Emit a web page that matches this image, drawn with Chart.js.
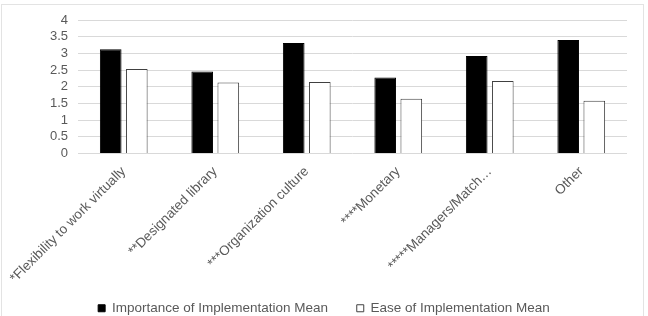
<!DOCTYPE html>
<html>
<head>
<meta charset="utf-8">
<script src="https://cdn.jsdelivr.net/npm/chart.js@4/dist/chart.umd.min.js"></script>
<style>
  html, body { margin: 0; padding: 0; background: #fff; overflow: hidden; }
  #wrap { position: relative; width: 648px; height: 316px; }
  #frame {
    position: absolute; left: 1px; top: 4px; width: 641px; height: 312px;
    border: 1px solid #e3e3e3; border-bottom: none; pointer-events: none;
  }
</style>
</head>
<body>
<div id="wrap"><canvas id="chart"></canvas><div id="frame"></div></div>
<script>
const categories = [
  '*Flexibility to work virtually',
  '**Designated library',
  '***Organization culture',
  '****Monetary',
  '*****Managers/Match…',
  'Other'
];
const importanceMean = [3.12, 2.46, 3.31, 2.28, 2.92, 3.40];
const easeMean = [2.53, 2.13, 2.14, 1.64, 2.17, 1.58];
const yTicks = [0, 0.5, 1, 1.5, 2, 2.5, 3, 3.5, 4];

const textColor = '#595959';
const gridColor = '#d9d9d9';
const font = { family: 'Liberation Sans, Arial, sans-serif', size: 13.5 };

new Chart(document.getElementById('chart'), {
  type: 'bar',
  data: {
    labels: categories,
    datasets: [
      {
        label: 'Importance of Implementation Mean',
        data: importanceMean,
        backgroundColor: '#000000',
        borderColor: '#000000',
        borderWidth: 1,
        categoryPercentage: 0.57,
        barPercentage: 0.83
      },
      {
        label: 'Ease of Implementation Mean',
        data: easeMean,
        backgroundColor: '#ffffff',
        borderColor: '#404040',
        borderWidth: 1,
        categoryPercentage: 0.57,
        barPercentage: 0.83
      }
    ]
  },
  options: {
    responsive: true,
    maintainAspectRatio: false,
    animation: false,
    layout: { padding: { top: 20, left: 21, right: 21, bottom: -9 } },
    plugins: {
      tooltip: { enabled: false },
      legend: {
        position: 'bottom',
        labels: {
          color: textColor,
          font: font,
          boxWidth: 7,
          boxHeight: 7,
          padding: 10,
          // wider gap between the two entries, like the original
          generateLabels: (chart) => {
            const items = Chart.defaults.plugins.legend.labels.generateLabels(chart);
            items[0].text = items[0].text + '     ';
            return items;
          }
        }
      }
    },
    scales: {
      x: {
        grid: { display: false, drawTicks: false },
        border: { display: false },
        afterFit: (scale) => {
          scale.height = 138;
          scale.paddingLeft = 0;
          scale.paddingRight = 0;
        },
        ticks: {
          color: textColor,
          font: font,
          minRotation: 45,
          maxRotation: 45,
          autoSkip: false,
          padding: 10
        }
      },
      y: {
        min: 0,
        max: 4,
        afterBuildTicks: (scale) => { scale.ticks = yTicks.map(v => ({ value: v })); },
        afterFit: (scale) => { scale.width = 57; },
        grid: { color: gridColor, lineWidth: 1, drawTicks: false },
        border: { display: false },
        ticks: {
          color: textColor,
          font: { family: 'Liberation Sans, Arial, sans-serif', size: 13 },
          autoSkip: false,
          padding: 10,
          callback: (v) => String(v)
        }
      }
    }
  }
});
</script>
</body>
</html>
